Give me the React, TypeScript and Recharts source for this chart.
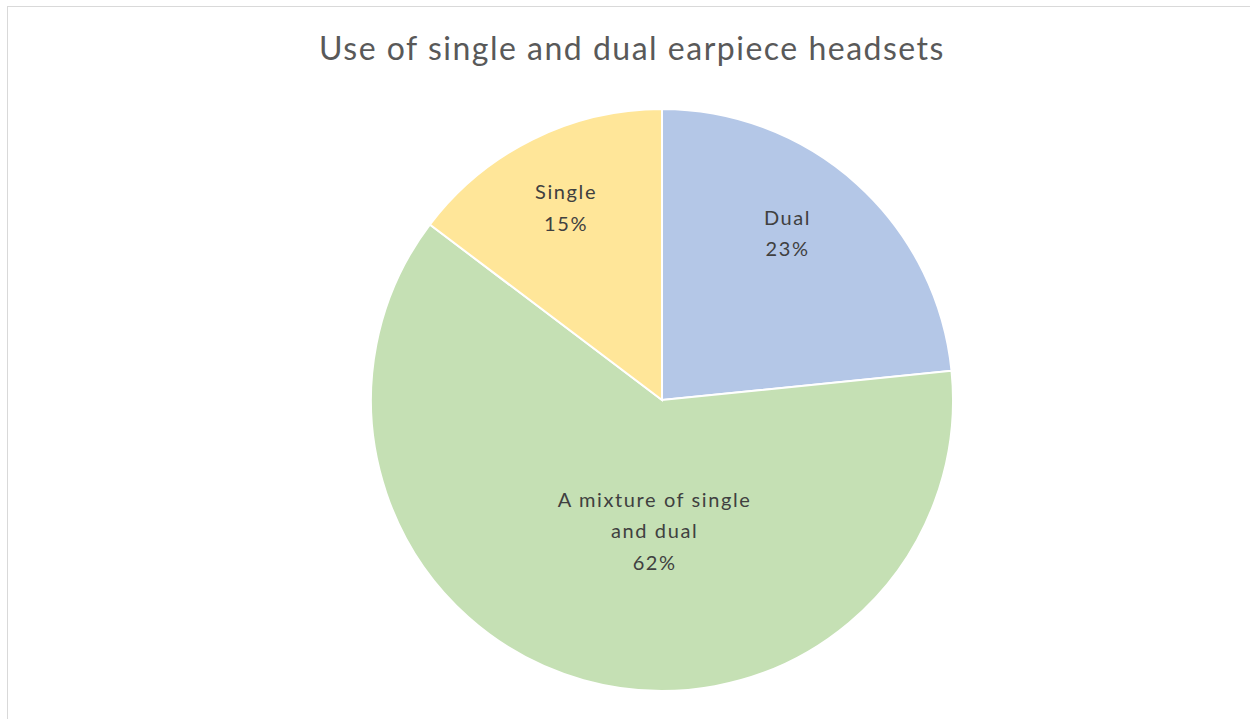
import { PieChart, Pie, Cell } from 'recharts';

const categories = ['Dual', 'A mixture of single and dual', 'Single'];
const shares = [23.4, 61.9, 14.7];
const labelLines = [['Dual'], ['A mixture of single', 'and dual'], ['Single']];

const COLORS = ['#b4c7e7', '#c5e0b4', '#ffe699'];
// label placement per slice: radius fraction plus a small nudge (Excel "best fit")
const LABEL_K = [0.72, 0.45, 0.74];
const LABEL_DX = [-15, 28, 0];
const LABEL_DY = [-12, 4, 0];

const data = categories.map((name, i) => ({ name, value: shares[i] }));

const RAD = Math.PI / 180;

function SliceLabel(props: any) {
  const { cx, cy, midAngle, outerRadius, percent, index } = props;
  const r = outerRadius * LABEL_K[index];
  const x = cx + r * Math.cos(-midAngle * RAD) + LABEL_DX[index];
  const y = cy + r * Math.sin(-midAngle * RAD) + LABEL_DY[index];
  const lines = [...labelLines[index], `${Math.round(percent * 100)}%`];
  const lh = 31.5;
  const top = y - ((lines.length - 1) * lh) / 2;
  return (
    <text
      x={x}
      y={top}
      textAnchor="middle"
      dominantBaseline="central"
      fill="#404040"
      style={{ fontFamily: 'Lato, sans-serif', fontSize: 20, letterSpacing: 1.6 }}
    >
      {lines.map((l, i) => (
        <tspan key={i} x={x} dy={i === 0 ? 0 : lh}>
          {l}
        </tspan>
      ))}
    </text>
  );
}

export default function App() {
  return (
    <div style={{ position: 'absolute', left: 0, top: 0, width: 1250, height: 719, overflow: 'hidden', background: '#fff' }}>
      <div
        style={{
          position: 'absolute', left: 7, top: 6, width: 1300, height: 800,
          border: '1px solid #d9d9d9', boxSizing: 'border-box',
        }}
      />
      <div
        style={{
          position: 'absolute', left: 7, top: 28, width: 1250, textAlign: 'center',
          fontFamily: 'Lato, sans-serif', fontSize: 32, letterSpacing: 1.5, lineHeight: '40px', color: '#595959',
        }}
      >
        Use of single and dual earpiece headsets
      </div>
      <div style={{ position: 'absolute', left: 0, top: 0 }}>
        <PieChart width={1250} height={719} margin={{ top: 0, right: 0, bottom: 0, left: 0 }}>
          <Pie
            data={data}
            dataKey="value"
            nameKey="name"
            cx={662}
            cy={400}
            outerRadius={291}
            startAngle={90}
            endAngle={-270}
            stroke="#ffffff"
            strokeWidth={2}
            labelLine={false}
            label={SliceLabel}
            isAnimationActive={false}
          >
            {data.map((d, i) => (
              <Cell key={d.name} fill={COLORS[i]} />
            ))}
          </Pie>
        </PieChart>
      </div>
    </div>
  );
}
